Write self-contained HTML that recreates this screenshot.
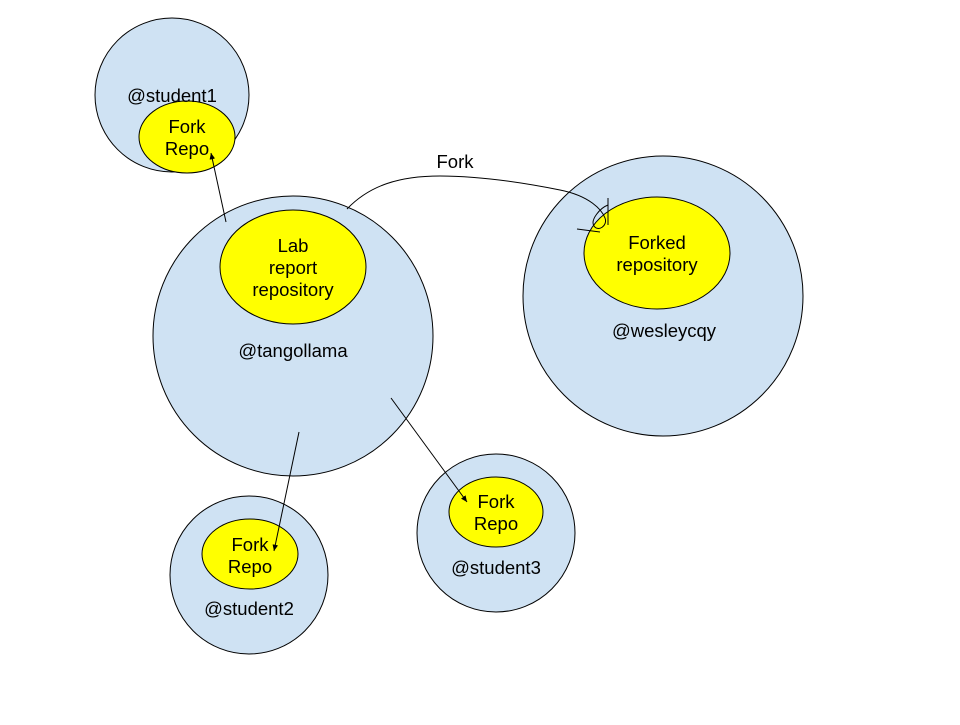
<!DOCTYPE html>
<html><head><meta charset="utf-8"><style>
html,body{margin:0;padding:0;background:#fff;}
svg text{font-family:"Liberation Sans",Arial,sans-serif;font-size:18.5px;fill:#000;text-anchor:middle;}
</style></head><body>
<svg width="960" height="720" viewBox="0 0 960 720" xmlns="http://www.w3.org/2000/svg">
<defs><marker id="a" viewBox="0 0 10 10" refX="9" refY="5" markerWidth="7" markerHeight="7" orient="auto"><path d="M0,1 L9,5 L0,9 Z" fill="#000"/></marker></defs>
<g stroke="#000" stroke-width="1">
<circle cx="172" cy="95" r="77" fill="#cfe2f3"/>
<ellipse cx="187" cy="137" rx="48" ry="36" fill="#ffff00"/>
<circle cx="293" cy="336" r="140" fill="#cfe2f3"/>
<ellipse cx="293" cy="267" rx="73" ry="57" fill="#ffff00"/>
<circle cx="663" cy="296" r="140" fill="#cfe2f3"/>
<ellipse cx="657" cy="253" rx="73" ry="56" fill="#ffff00"/>
<circle cx="249" cy="575" r="79" fill="#cfe2f3"/>
<ellipse cx="250" cy="554" rx="48" ry="35" fill="#ffff00"/>
<circle cx="496" cy="533" r="79" fill="#cfe2f3"/>
<ellipse cx="496" cy="512" rx="47" ry="35" fill="#ffff00"/>
</g>
<g stroke="#000" stroke-width="1" fill="none">
<line x1="226" y1="222" x2="211" y2="153" marker-end="url(#a)"/>
<line x1="299" y1="432" x2="274" y2="551" marker-end="url(#a)"/>
<line x1="391" y1="398" x2="467" y2="502" marker-end="url(#a)"/>
<path d="M347,209 C370,185 400,176 440,176 C480,176 520,182 560,190 C590,196 602,210 605,218 C608,226 598,232 594,226 C590,220 600,208 608,205"/>
<line x1="608" y1="198" x2="608" y2="225"/>
<line x1="577" y1="229" x2="600" y2="232"/>
</g>
<text x="172" y="102">@student1</text>
<text x="187" y="133">Fork</text>
<text x="187" y="155">Repo</text>
<text x="293" y="252">Lab</text>
<text x="293" y="274">report</text>
<text x="293" y="296">repository</text>
<text x="293" y="357">@tangollama</text>
<text x="455" y="168">Fork</text>
<text x="657" y="249">Forked</text>
<text x="657" y="271">repository</text>
<text x="664" y="337">@wesleycqy</text>
<text x="250" y="551">Fork</text>
<text x="250" y="573">Repo</text>
<text x="249" y="615">@student2</text>
<text x="496" y="508">Fork</text>
<text x="496" y="530">Repo</text>
<text x="496" y="574">@student3</text>
</svg>
</body></html>
